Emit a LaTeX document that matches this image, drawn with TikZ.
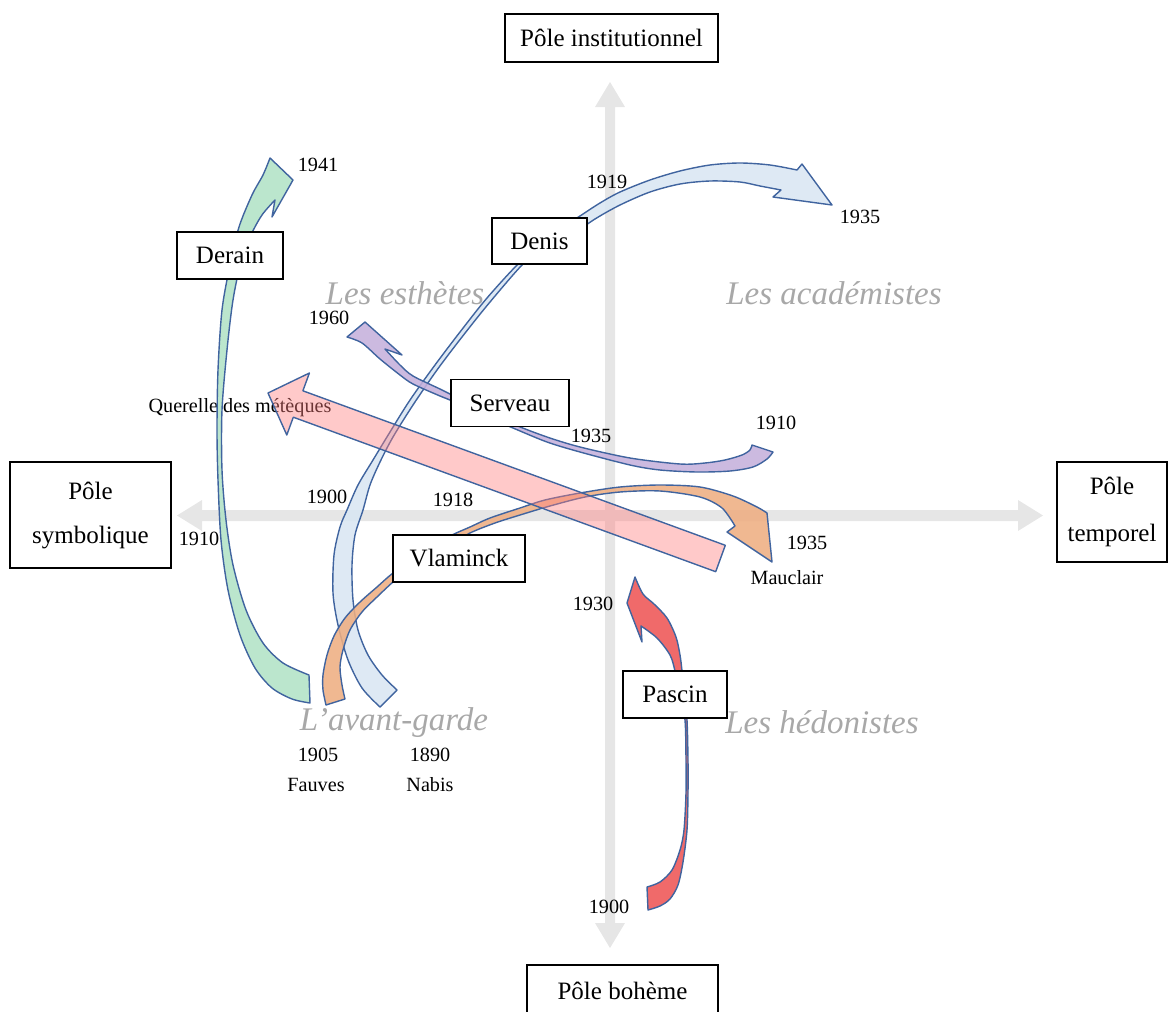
\documentclass[tikz,border=0pt]{standalone}
\usepackage{fontspec}
\setmainfont{Liberation Serif}
\definecolor{outl}{HTML}{40649F}
\definecolor{axgray}{HTML}{E6E6E6}
\definecolor{catgray}{HTML}{A8A8A8}
\definecolor{grn}{HTML}{B2E2C6}
\definecolor{lblue}{HTML}{D9E6F3}
\definecolor{purp}{HTML}{C5B0DC}
\definecolor{pinkr}{HTML}{FF7F7F}
\definecolor{orng}{HTML}{EEAE82}
\definecolor{redd}{HTML}{EE5555}
\begin{document}
\begin{tikzpicture}[x=1pt,y=-1pt,
  box/.style={draw=black, line width=1.1pt, fill=white, font=\fontsize{25}{29}\selectfont, inner sep=0pt},
  yr/.style={font=\fontsize{20.2}{23}\selectfont, inner sep=0pt},
  cat/.style={font=\fontsize{33}{36}\selectfont\itshape, text=catgray, inner sep=0pt},
  band/.style={draw=outl, line width=1.4pt, line join=round, fill opacity=0.88},
  axisfill/.style={fill=axgray}]
\useasboundingbox (0,0) rectangle (1168,1012);
% axes
\fill[axisfill] (605,107) -- (595,107) -- (610,82) -- (625,107) -- (615,107) -- (615,923) -- (625,923) -- (610,948) -- (595,923) -- (605,923) -- cycle;
\fill[axisfill] (202,510) -- (202,500) -- (177,515.5) -- (202,531) -- (202,521) -- (1018,521) -- (1018,531) -- (1043,515.5) -- (1018,500) -- (1018,510) -- cycle;
% label under the pink arrow
\node[yr] (querelle) at (240,408) {Querelle des métèques};
% Derain (green)
\path[band, fill=grn] plot[smooth] coordinates {(310,703) (292,699) (272,688) (255,668) (240,635) (228,590) (221,540) (218,480) (217,430) (218,370) (222,310) (230,265) (239,227) (252,195) (263,175) (270,158)} -- (293,180) -- (272,217) -- plot[smooth] coordinates {(275,200) (262,215) (251,235) (241,262) (233,300) (227,350) (222,410) (222,470) (226,520) (233,565) (246,610) (263,643) (283,663) (309,675)} -- cycle;
% Denis (light blue)
\path[band, fill=lblue] plot[smooth] coordinates {(380,707) (362,688) (348,660) (338,625) (333,593) (334,555) (340,527) (347,510) (358,485) (373,460) (390,432) (410,400) (435,365) (460,332) (487,298) (520,262) (550,236) (580,216) (600,203) (620,192) (650,180) (680,171) (710,165) (740,163) (770,165) (797,170)} -- (802,164) -- (832,205) -- (773,197) -- plot[smooth] coordinates {(781,190) (760,186) (740,182) (710,181) (680,184) (650,192) (620,205) (595,219) (570,236) (545,250) (525,262) (490,302) (462,337) (437,370) (413,405) (393,437) (380,462) (370,485) (363,510) (355,535) (352,565) (353,600) (358,630) (368,655) (382,675) (397,690)} -- cycle;
% Serveau (purple)
\path[band, fill=purp] plot[smooth] coordinates {(773,452) (767,459) (753,467) (730,471) (697,472) (660,470) (630,465) (580,452) (547,442) (513,428) (480,414) (450,400) (440,396) (413,384) (400,375) (380,359) (362,343) (347,337)} -- (365,322) -- (402,355) -- plot[smooth] coordinates {(385,349) (400,365) (413,376) (440,389) (450,394) (480,408) (513,424) (547,437) (580,447) (630,458) (680,464) (705,463) (725,460) (742,455) (750,450) (752,445)} -- cycle;
% Vlaminck (orange)
\path[band, fill=orng] plot[smooth] coordinates {(326,705) (323,690) (323,675) (327,655) (334,636) (345,618) (360,602) (377,587) (393,573) (415,558) (435,545) (452,535) (470,527) (490,518) (520,508) (545,500) (580,493) (620,487) (660,485) (700,487) (733,496) (757,507) (767,513)} -- (772,562) -- (727,532) -- plot[smooth] coordinates {(735,526) (722,508) (700,497) (660,491) (620,492) (585,497) (550,506) (520,515) (495,523) (470,533) (450,545) (425,560) (405,573) (393,582) (377,597) (362,612) (350,630) (343,650) (340,667) (342,685) (345,699)} -- cycle;
% Pascin (red)
\path[band, fill=redd] plot[smooth] coordinates {(648,910) (660,906) (670,899) (678,885) (683,862) (687,830) (688,793) (688,760) (687,720) (684,695) (682,671) (680,655) (676,637) (667,618) (654,604) (643,594) (635,577)} -- (627,603) -- (642,642) -- plot[smooth] coordinates {(641,626) (657,638) (670,655) (675,671) (680,695) (685,720) (686,760) (686,793) (684,830) (680,850) (672,870) (660,882) (647,887)} -- cycle;
% Querelle (pink, straight)
\path[draw=outl, line width=1.4pt, line join=round, fill=pinkr, fill opacity=0.42] (268,393) -- (309.4,373) -- (302.9,390.8) -- (725.3,545.3) -- (715.7,571.7) -- (293.3,417.2) -- (286.8,435) -- cycle;
% boxes
\node[box, minimum width=213pt, minimum height=48pt] (inst) at (611.5,38) {Pôle institutionnel};
\node[box, minimum width=161pt, minimum height=106pt, align=center, font=\fontsize{25}{44}\selectfont] (sym) at (90.5,515) {\raisebox{3pt}{Pôle}\\\raisebox{3pt}{symbolique}};
\node[box, minimum width=110pt, minimum height=100pt, align=center, font=\fontsize{25}{47}\selectfont] (temp) at (1112,512) {\raisebox{-2pt}{Pôle}\\\raisebox{-2pt}{temporel}};
\node[box, minimum width=191pt, minimum height=52pt] (boh) at (622.5,991) {Pôle bohème};
\node[box, minimum width=106pt, minimum height=47pt] (derain) at (230,255.5) {Derain};
\node[box, minimum width=95pt, minimum height=46pt] (denis) at (539.5,241) {Denis};
\node[box, minimum width=118pt, minimum height=47pt] (serveau) at (510,403) {Serveau};
\node[box, minimum width=132pt, minimum height=47pt] (vlaminck) at (459,558.5) {Vlaminck};
\node[box, minimum width=104pt, minimum height=47pt] (pascin) at (675,694.5) {Pascin};
% category labels
\node[cat] (esth) at (405,293) {Les esthètes};
\node[cat] (acad) at (834,293) {Les académistes};
\node[cat] (avg) at (394,723) {L’avant-garde};
\node[cat] (hedo) at (822,722) {Les hédonistes};
% years and names
\node[yr] (a1941) at (318,165) {1941};
\node[yr] (a1919) at (607,182) {1919};
\node[yr] (a1935a) at (860,217) {1935};
\node[yr] (a1960) at (329,318) {1960};
\node[yr] (a1910a) at (776,423) {1910};
\node[yr] (a1935b) at (591,436) {1935};
\node[yr] (a1900a) at (327,497) {1900};
\node[yr] (a1918) at (453,500) {1918};
\node[yr] (a1910b) at (199,539) {1910};
\node[yr] (a1935c) at (807,543) {1935};
\node[yr] (mauclair) at (787,578) {Mauclair};
\node[yr] (a1930) at (593,604) {1930};
\node[yr] (a1905) at (318,755) {1905};
\node[yr] (fauves) at (316,785) {Fauves};
\node[yr] (a1890) at (430,755) {1890};
\node[yr] (nabis) at (430,785) {Nabis};
\node[yr] (a1900b) at (609,907) {1900};
\end{tikzpicture}
\end{document}
